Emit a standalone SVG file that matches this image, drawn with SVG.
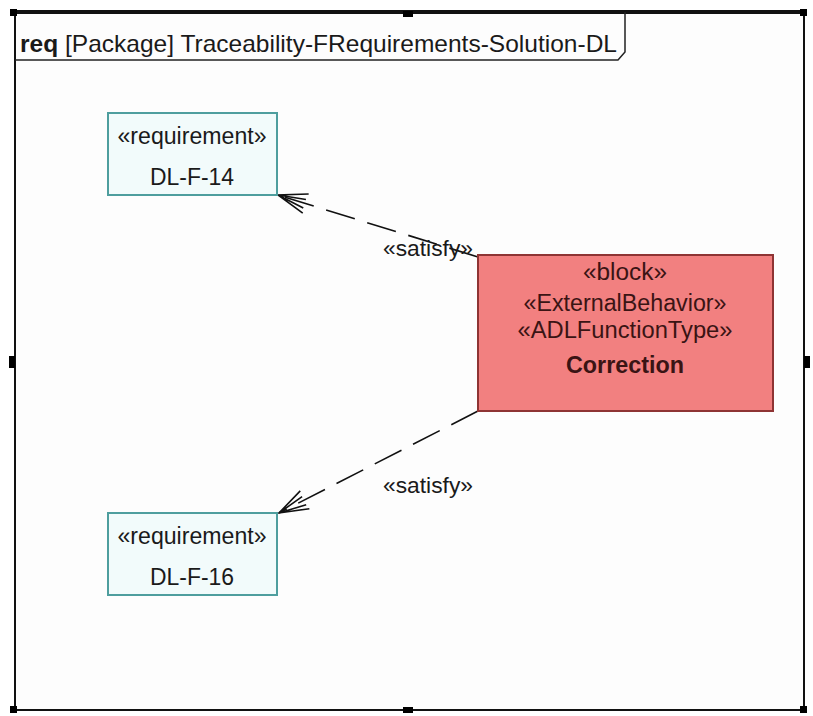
<svg xmlns="http://www.w3.org/2000/svg" width="813" height="716" viewBox="0 0 813 716">
  <style>
    text { font-family: "Liberation Sans", Arial, sans-serif; fill: #1a1a1a; }
    .req rect { fill: #f2fbfb; stroke: #4e9e9e; stroke-width: 2; }
    .req text { font-size: 23px; text-anchor: middle; }
    .blk rect { fill: #f28080; stroke: #8e3434; stroke-width: 2; }
    .blk text { font-size: 23px; text-anchor: middle; fill: #3a1414; }
    .dep { fill: none; stroke: #111; stroke-width: 1.6; stroke-dasharray: 30 13; }
    .lbl { font-size: 22px; }
    .handle { fill: #000; }
  </style>
  <defs>
    <!-- open arrowhead for «satisfy» dependencies -->
    <marker id="open" markerWidth="40" markerHeight="30" refX="0" refY="0" viewBox="-38 -15 40 30" orient="auto" markerUnits="userSpaceOnUse">
      <path d="M-29,-10 L0,0 L-29,10 M-28,-5 L0,0 M-28,4 L0,0" fill="none" stroke="#111" stroke-width="1.6"/>
    </marker>
  </defs>

  <rect width="813" height="716" fill="#fff"/>

  <!-- package frame -->
  <g id="frame">
    <rect x="15" y="12" width="789" height="698" fill="#fdfdfd" stroke="#111" stroke-width="2"/>
    <line x1="15" y1="12" x2="804" y2="12" stroke="#111" stroke-width="4"/>
    <path d="M15,60 L618,60 L625,52 L625,12" fill="none" stroke="#222" stroke-width="1.5"/>
    <text x="20" y="52" font-size="24" textLength="597" lengthAdjust="spacingAndGlyphs"><tspan font-weight="bold">req</tspan> [Package] Traceability-FRequirements-Solution-DL</text>
    <!-- selection handles -->
    <rect class="handle" x="10" y="9" width="7" height="7"/>
    <rect class="handle" x="800" y="9" width="7" height="7"/>
    <rect class="handle" x="10" y="706" width="7" height="7"/>
    <rect class="handle" x="800" y="706" width="7" height="7"/>
    <rect class="handle" x="403" y="11" width="10" height="6"/>
    <rect class="handle" x="403" y="707" width="10" height="6"/>
    <rect class="handle" x="9" y="356" width="6" height="12"/>
    <rect class="handle" x="804" y="356" width="6" height="12"/>
  </g>

  <g id="connectors">
    <path class="dep" d="M478,257 L278,195" marker-end="url(#open)"/>
    <path class="dep" d="M478,411 L279,513" marker-end="url(#open)"/>
    <text class="lbl" x="383" y="256" textLength="90" lengthAdjust="spacingAndGlyphs">«satisfy»</text>
    <text class="lbl" x="383" y="493" textLength="90" lengthAdjust="spacingAndGlyphs">«satisfy»</text>
  </g>

  <g id="req-dl-f-14" class="req">
    <rect x="108" y="113" width="169" height="82"/>
    <text x="192" y="144" textLength="149" lengthAdjust="spacingAndGlyphs">«requirement»</text>
    <text x="192" y="185" textLength="84" lengthAdjust="spacingAndGlyphs">DL-F-14</text>
  </g>

  <g id="req-dl-f-16" class="req">
    <rect x="108" y="513" width="169" height="82"/>
    <text x="192" y="544" textLength="149" lengthAdjust="spacingAndGlyphs">«requirement»</text>
    <text x="192" y="585" textLength="84" lengthAdjust="spacingAndGlyphs">DL-F-16</text>
  </g>

  <g id="block-correction" class="blk">
    <rect x="478" y="255" width="295" height="156"/>
    <text x="625" y="280" textLength="84" lengthAdjust="spacingAndGlyphs">«block»</text>
    <text x="625" y="311" textLength="203" lengthAdjust="spacingAndGlyphs">«ExternalBehavior»</text>
    <text x="625" y="338" textLength="215" lengthAdjust="spacingAndGlyphs">«ADLFunctionType»</text>
    <text x="625" y="373" font-weight="bold" textLength="118" lengthAdjust="spacingAndGlyphs">Correction</text>
  </g>
</svg>
